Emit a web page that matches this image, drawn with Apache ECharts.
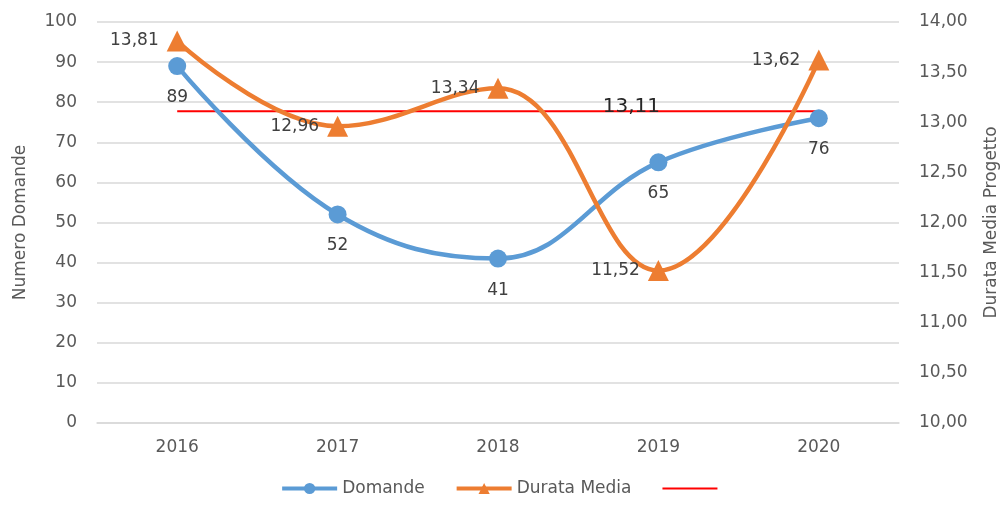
<!DOCTYPE html>
<html><head><meta charset="utf-8">
<script src="https://cdn.jsdelivr.net/npm/echarts@6/dist/echarts.min.js"></script>
<style>html,body{margin:0;padding:0;background:#fff}#c{width:1008px;height:506px}</style>
</head><body><div id="c"></div>
<script>
const categories = ['2016','2017','2018','2019','2020'];
const domande = [89, 52, 41, 65, 76];
const durataMedia = [13.81, 12.96, 13.34, 11.52, 13.62];
const mediaValue = 13.11;
const mediaLine = categories.map(() => mediaValue);
const mediaLabelIndex = 3;

const fmt = v => v.toFixed(2).replace('.', ',');
const FONT = 'DejaVu Sans';
const GREY = '#595959';
const FS = 17;

const chart = echarts.init(document.getElementById('c'), null, {renderer: 'canvas'});
chart.setOption({
  animation: false,
  textStyle: {fontFamily: FONT},
  grid: {left: 97, right: 108, top: 22, bottom: 83},
  legend: {
    bottom: 4, left: 'center', itemWidth: 55, itemHeight: 14, itemGap: 30,
    textStyle: {fontFamily: FONT, fontSize: FS, color: GREY},
    data: [
      {name: 'Domande', lineStyle: {width: 4}},
      {name: 'Durata Media', lineStyle: {width: 4}},
      {name: ' ', itemStyle: {color: 'rgba(0,0,0,0)', borderWidth: 0}, lineStyle: {color: '#FF0000', width: 2}}]
  },
  xAxis: {
    type: 'category', data: categories, boundaryGap: true,
    axisLine: {lineStyle: {color: '#d9d9d9', width: 1.5}},
    axisTick: {show: false},
    axisLabel: {fontFamily: FONT, fontSize: FS, color: GREY, margin: 16}
  },
  yAxis: [{
    type: 'value', min: 0, max: 100, interval: 10,
    name: 'Numero Domande', nameLocation: 'middle', nameGap: 68, nameRotate: 90,
    nameTextStyle: {fontFamily: FONT, fontSize: FS, color: GREY},
    axisLine: {show: false}, axisTick: {show: false},
    axisLabel: {fontFamily: FONT, fontSize: FS, color: GREY, margin: 20},
    splitLine: {lineStyle: {color: '#d9d9d9', width: 1.5}}
  }, {
    type: 'value', min: 10, max: 14, interval: 0.5,
    name: 'Durata Media Progetto', nameLocation: 'middle', nameGap: 84, nameRotate: 90,
    nameTextStyle: {fontFamily: FONT, fontSize: FS, color: GREY},
    axisLine: {show: false}, axisTick: {show: false},
    axisLabel: {fontFamily: FONT, fontSize: FS, color: GREY, margin: 20, formatter: v => fmt(v)},
    splitLine: {show: false}
  }],
  series: [{
    name: 'Domande', type: 'line', yAxisIndex: 0, data: domande, smooth: 0.4,
    symbol: 'circle', symbolSize: 18,
    itemStyle: {color: '#5B9BD5'},
    lineStyle: {color: '#5B9BD5', width: 4.5},
    label: {show: true, position: 'bottom', distance: 14, fontFamily: FONT, fontSize: FS, color: '#404040'},
    z: 3
  }, {
    name: 'Durata Media', type: 'line', yAxisIndex: 1, data: durataMedia, smooth: 0.4,
    symbol: 'triangle', symbolSize: 21,
    itemStyle: {color: '#ED7D31'},
    lineStyle: {color: '#ED7D31', width: 4.5},
    label: {show: true, position: 'left', distance: 8, fontFamily: FONT, fontSize: FS, color: '#404040', formatter: p => fmt(p.value)},
    z: 4
  }, {
    name: ' ', type: 'line', yAxisIndex: 1, data: mediaLine,
    symbol: 'none', showSymbol: false,
    itemStyle: {color: '#FF0000'},
    lineStyle: {color: '#FF0000', width: 2},
    markPoint: {
      symbol: 'rect', symbolSize: 1, itemStyle: {color: 'rgba(0,0,0,0)'},
      label: {show: true, fontFamily: FONT, fontSize: 20, color: '#262626', offset: [-27, -4], formatter: () => fmt(mediaValue)},
      data: [{coord: [mediaLabelIndex, mediaValue]}]
    },
    z: 2
  }]
});
</script></body></html>
